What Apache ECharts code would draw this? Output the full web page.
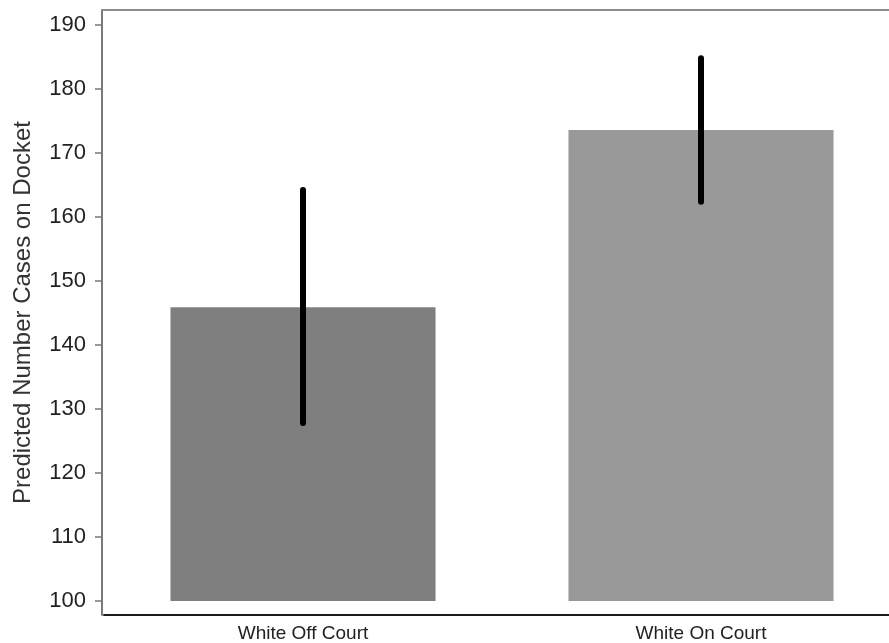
<!DOCTYPE html>
<html>
<head>
<meta charset="utf-8">
<script src="https://cdn.jsdelivr.net/npm/echarts@6/dist/echarts.min.js"></script>
<style>
html,body{margin:0;padding:0;background:#fff;}
#chart{width:889px;height:643px;}
</style>
</head>
<body>
<div id="chart"></div>
<script>
const categories = ['White Off Court', 'White On Court'];
const predicted = [145.9, 173.6];
const ciLower = [127.8, 162.4];
const ciUpper = [164.2, 184.8];
const yTicks = [100, 110, 120, 130, 140, 150, 160, 170, 180, 190];
const barBase = 100;
const barColors = ['#7f7f7f', '#999999'];

const chart = echarts.init(document.getElementById('chart'), null, {renderer: 'canvas'});
const font = "'Liberation Sans', Arial, sans-serif";

chart.setOption({
  animation: false,
  backgroundColor: '#ffffff',
  grid: {left: 104, right: -11, top: 10, bottom: 28, containLabel: false, outerBoundsMode: 'none'},
  xAxis: [{
    type: 'category',
    data: categories,
    position: 'bottom',
    axisLine: {show: true, lineStyle: {color: '#1a1a1a', width: 2}},
    axisTick: {show: false},
    axisLabel: {color: '#222', fontSize: 19, fontFamily: font, margin: 9},
    splitLine: {show: false}
  }],
  yAxis: {
    type: 'value',
    min: 97.8,
    max: 192.35,
    offset: 2,
    name: 'Predicted Number Cases on Docket',
    nameLocation: 'middle',
    nameGap: 67,
    nameTextStyle: {color: '#333', fontSize: 24, fontFamily: font},
    axisLine: {show: true, lineStyle: {color: '#7a7a7a', width: 2}},
    axisTick: {show: true, length: 7, customValues: yTicks, lineStyle: {color: '#7a7a7a', width: 1.5}},
    axisLabel: {show: true, customValues: yTicks, color: '#222', fontSize: 22, fontFamily: font, margin: 16},
    splitLine: {show: false}
  },
  graphic: [{
    type: 'line',
    shape: {x1: 101, y1: 10, x2: 889, y2: 10},
    style: {stroke: '#8c8c8c', lineWidth: 2},
    z: 10
  }],
  series: [
    {
      type: 'custom',
      name: 'Predicted',
      data: categories.map((c, i) => [i, predicted[i]]),
      renderItem: function (params, api) {
        const i = api.value(0);
        const top = api.coord([i, api.value(1)]);
        const base = api.coord([i, barBase]);
        const w = api.size([1, 0])[0] * 0.666;
        return {
          type: 'rect',
          shape: {x: top[0] - w / 2, y: top[1], width: w, height: base[1] - top[1]},
          style: {fill: barColors[i]}
        };
      },
      z: 2
    },
    {
      type: 'custom',
      name: 'CI',
      data: categories.map((c, i) => [i, ciLower[i], ciUpper[i]]),
      renderItem: function (params, api) {
        const i = api.value(0);
        const lo = api.coord([i, api.value(1)]);
        const hi = api.coord([i, api.value(2)]);
        return {
          type: 'line',
          shape: {x1: lo[0], y1: lo[1], x2: hi[0], y2: hi[1]},
          style: {stroke: '#000', lineWidth: 6, lineCap: 'round'}
        };
      },
      z: 5
    }
  ]
});
</script>
</body>
</html>
